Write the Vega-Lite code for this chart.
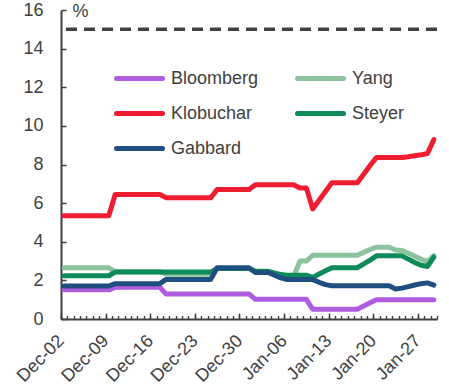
{
  "$schema": "https://vega.github.io/schema/vega-lite/v6.json",
  "width": 376,
  "height": 309,
  "autosize": {"type": "none"},
  "padding": {"left": 61, "top": 10, "right": 12, "bottom": 66},
  "config": {
    "font": "Liberation Sans",
    "view": {"stroke": null},
    "axis": {"grid": false}
  },
  "data": {
    "values": [
      {"date": "2019-12-02", "series": "Bloomberg", "value": 1.51},
      {"date": "2019-12-03", "series": "Bloomberg", "value": 1.51},
      {"date": "2019-12-04", "series": "Bloomberg", "value": 1.51},
      {"date": "2019-12-05", "series": "Bloomberg", "value": 1.51},
      {"date": "2019-12-06", "series": "Bloomberg", "value": 1.51},
      {"date": "2019-12-07", "series": "Bloomberg", "value": 1.51},
      {"date": "2019-12-08", "series": "Bloomberg", "value": 1.51},
      {"date": "2019-12-09", "series": "Bloomberg", "value": 1.51},
      {"date": "2019-12-10", "series": "Bloomberg", "value": 1.64},
      {"date": "2019-12-11", "series": "Bloomberg", "value": 1.64},
      {"date": "2019-12-12", "series": "Bloomberg", "value": 1.64},
      {"date": "2019-12-13", "series": "Bloomberg", "value": 1.64},
      {"date": "2019-12-14", "series": "Bloomberg", "value": 1.64},
      {"date": "2019-12-15", "series": "Bloomberg", "value": 1.64},
      {"date": "2019-12-16", "series": "Bloomberg", "value": 1.64},
      {"date": "2019-12-17", "series": "Bloomberg", "value": 1.64},
      {"date": "2019-12-18", "series": "Bloomberg", "value": 1.3},
      {"date": "2019-12-19", "series": "Bloomberg", "value": 1.3},
      {"date": "2019-12-20", "series": "Bloomberg", "value": 1.3},
      {"date": "2019-12-21", "series": "Bloomberg", "value": 1.3},
      {"date": "2019-12-22", "series": "Bloomberg", "value": 1.3},
      {"date": "2019-12-23", "series": "Bloomberg", "value": 1.3},
      {"date": "2019-12-24", "series": "Bloomberg", "value": 1.3},
      {"date": "2019-12-25", "series": "Bloomberg", "value": 1.3},
      {"date": "2019-12-26", "series": "Bloomberg", "value": 1.3},
      {"date": "2019-12-27", "series": "Bloomberg", "value": 1.3},
      {"date": "2019-12-28", "series": "Bloomberg", "value": 1.3},
      {"date": "2019-12-29", "series": "Bloomberg", "value": 1.3},
      {"date": "2019-12-30", "series": "Bloomberg", "value": 1.3},
      {"date": "2019-12-31", "series": "Bloomberg", "value": 1.3},
      {"date": "2020-01-01", "series": "Bloomberg", "value": 1.02},
      {"date": "2020-01-02", "series": "Bloomberg", "value": 1.02},
      {"date": "2020-01-03", "series": "Bloomberg", "value": 1.02},
      {"date": "2020-01-04", "series": "Bloomberg", "value": 1.02},
      {"date": "2020-01-05", "series": "Bloomberg", "value": 1.02},
      {"date": "2020-01-06", "series": "Bloomberg", "value": 1.02},
      {"date": "2020-01-07", "series": "Bloomberg", "value": 1.02},
      {"date": "2020-01-08", "series": "Bloomberg", "value": 1.02},
      {"date": "2020-01-09", "series": "Bloomberg", "value": 1.02},
      {"date": "2020-01-10", "series": "Bloomberg", "value": 0.5},
      {"date": "2020-01-11", "series": "Bloomberg", "value": 0.5},
      {"date": "2020-01-12", "series": "Bloomberg", "value": 0.5},
      {"date": "2020-01-13", "series": "Bloomberg", "value": 0.5},
      {"date": "2020-01-14", "series": "Bloomberg", "value": 0.5},
      {"date": "2020-01-15", "series": "Bloomberg", "value": 0.5},
      {"date": "2020-01-16", "series": "Bloomberg", "value": 0.5},
      {"date": "2020-01-17", "series": "Bloomberg", "value": 0.5},
      {"date": "2020-01-18", "series": "Bloomberg", "value": 0.67},
      {"date": "2020-01-19", "series": "Bloomberg", "value": 0.84},
      {"date": "2020-01-20", "series": "Bloomberg", "value": 1.0},
      {"date": "2020-01-21", "series": "Bloomberg", "value": 1.0},
      {"date": "2020-01-22", "series": "Bloomberg", "value": 1.0},
      {"date": "2020-01-23", "series": "Bloomberg", "value": 1.0},
      {"date": "2020-01-24", "series": "Bloomberg", "value": 1.0},
      {"date": "2020-01-25", "series": "Bloomberg", "value": 1.0},
      {"date": "2020-01-26", "series": "Bloomberg", "value": 1.0},
      {"date": "2020-01-27", "series": "Bloomberg", "value": 1.0},
      {"date": "2020-01-28", "series": "Bloomberg", "value": 1.0},
      {"date": "2020-01-29", "series": "Bloomberg", "value": 1.0},

      {"date": "2019-12-02", "series": "Yang", "value": 2.65},
      {"date": "2019-12-03", "series": "Yang", "value": 2.65},
      {"date": "2019-12-04", "series": "Yang", "value": 2.65},
      {"date": "2019-12-05", "series": "Yang", "value": 2.65},
      {"date": "2019-12-06", "series": "Yang", "value": 2.65},
      {"date": "2019-12-07", "series": "Yang", "value": 2.65},
      {"date": "2019-12-08", "series": "Yang", "value": 2.65},
      {"date": "2019-12-09", "series": "Yang", "value": 2.65},
      {"date": "2019-12-10", "series": "Yang", "value": 2.45},
      {"date": "2019-12-11", "series": "Yang", "value": 2.45},
      {"date": "2019-12-12", "series": "Yang", "value": 2.45},
      {"date": "2019-12-13", "series": "Yang", "value": 2.45},
      {"date": "2019-12-14", "series": "Yang", "value": 2.45},
      {"date": "2019-12-15", "series": "Yang", "value": 2.45},
      {"date": "2019-12-16", "series": "Yang", "value": 2.45},
      {"date": "2019-12-17", "series": "Yang", "value": 2.45},
      {"date": "2019-12-18", "series": "Yang", "value": 2.32},
      {"date": "2019-12-19", "series": "Yang", "value": 2.32},
      {"date": "2019-12-20", "series": "Yang", "value": 2.32},
      {"date": "2019-12-21", "series": "Yang", "value": 2.32},
      {"date": "2019-12-22", "series": "Yang", "value": 2.32},
      {"date": "2019-12-23", "series": "Yang", "value": 2.32},
      {"date": "2019-12-24", "series": "Yang", "value": 2.32},
      {"date": "2019-12-25", "series": "Yang", "value": 2.32},
      {"date": "2019-12-26", "series": "Yang", "value": 2.62},
      {"date": "2019-12-27", "series": "Yang", "value": 2.62},
      {"date": "2019-12-28", "series": "Yang", "value": 2.62},
      {"date": "2019-12-29", "series": "Yang", "value": 2.62},
      {"date": "2019-12-30", "series": "Yang", "value": 2.62},
      {"date": "2019-12-31", "series": "Yang", "value": 2.62},
      {"date": "2020-01-01", "series": "Yang", "value": 2.45},
      {"date": "2020-01-02", "series": "Yang", "value": 2.45},
      {"date": "2020-01-03", "series": "Yang", "value": 2.45},
      {"date": "2020-01-04", "series": "Yang", "value": 2.35},
      {"date": "2020-01-05", "series": "Yang", "value": 2.27},
      {"date": "2020-01-06", "series": "Yang", "value": 2.22},
      {"date": "2020-01-07", "series": "Yang", "value": 2.2},
      {"date": "2020-01-08", "series": "Yang", "value": 3.0},
      {"date": "2020-01-09", "series": "Yang", "value": 3.0},
      {"date": "2020-01-10", "series": "Yang", "value": 3.3},
      {"date": "2020-01-11", "series": "Yang", "value": 3.3},
      {"date": "2020-01-12", "series": "Yang", "value": 3.3},
      {"date": "2020-01-13", "series": "Yang", "value": 3.3},
      {"date": "2020-01-14", "series": "Yang", "value": 3.3},
      {"date": "2020-01-15", "series": "Yang", "value": 3.3},
      {"date": "2020-01-16", "series": "Yang", "value": 3.3},
      {"date": "2020-01-17", "series": "Yang", "value": 3.3},
      {"date": "2020-01-18", "series": "Yang", "value": 3.45},
      {"date": "2020-01-19", "series": "Yang", "value": 3.6},
      {"date": "2020-01-20", "series": "Yang", "value": 3.72},
      {"date": "2020-01-21", "series": "Yang", "value": 3.72},
      {"date": "2020-01-22", "series": "Yang", "value": 3.72},
      {"date": "2020-01-23", "series": "Yang", "value": 3.57},
      {"date": "2020-01-24", "series": "Yang", "value": 3.55},
      {"date": "2020-01-25", "series": "Yang", "value": 3.4},
      {"date": "2020-01-26", "series": "Yang", "value": 3.25},
      {"date": "2020-01-27", "series": "Yang", "value": 3.1},
      {"date": "2020-01-28", "series": "Yang", "value": 2.97},
      {"date": "2020-01-29", "series": "Yang", "value": 3.28},

      {"date": "2019-12-02", "series": "Klobuchar", "value": 5.35},
      {"date": "2019-12-03", "series": "Klobuchar", "value": 5.35},
      {"date": "2019-12-04", "series": "Klobuchar", "value": 5.35},
      {"date": "2019-12-05", "series": "Klobuchar", "value": 5.35},
      {"date": "2019-12-06", "series": "Klobuchar", "value": 5.35},
      {"date": "2019-12-07", "series": "Klobuchar", "value": 5.35},
      {"date": "2019-12-08", "series": "Klobuchar", "value": 5.35},
      {"date": "2019-12-09", "series": "Klobuchar", "value": 5.35},
      {"date": "2019-12-10", "series": "Klobuchar", "value": 6.45},
      {"date": "2019-12-11", "series": "Klobuchar", "value": 6.45},
      {"date": "2019-12-12", "series": "Klobuchar", "value": 6.45},
      {"date": "2019-12-13", "series": "Klobuchar", "value": 6.45},
      {"date": "2019-12-14", "series": "Klobuchar", "value": 6.45},
      {"date": "2019-12-15", "series": "Klobuchar", "value": 6.45},
      {"date": "2019-12-16", "series": "Klobuchar", "value": 6.45},
      {"date": "2019-12-17", "series": "Klobuchar", "value": 6.45},
      {"date": "2019-12-18", "series": "Klobuchar", "value": 6.28},
      {"date": "2019-12-19", "series": "Klobuchar", "value": 6.28},
      {"date": "2019-12-20", "series": "Klobuchar", "value": 6.28},
      {"date": "2019-12-21", "series": "Klobuchar", "value": 6.28},
      {"date": "2019-12-22", "series": "Klobuchar", "value": 6.28},
      {"date": "2019-12-23", "series": "Klobuchar", "value": 6.28},
      {"date": "2019-12-24", "series": "Klobuchar", "value": 6.28},
      {"date": "2019-12-25", "series": "Klobuchar", "value": 6.28},
      {"date": "2019-12-26", "series": "Klobuchar", "value": 6.7},
      {"date": "2019-12-27", "series": "Klobuchar", "value": 6.7},
      {"date": "2019-12-28", "series": "Klobuchar", "value": 6.7},
      {"date": "2019-12-29", "series": "Klobuchar", "value": 6.7},
      {"date": "2019-12-30", "series": "Klobuchar", "value": 6.7},
      {"date": "2019-12-31", "series": "Klobuchar", "value": 6.7},
      {"date": "2020-01-01", "series": "Klobuchar", "value": 6.95},
      {"date": "2020-01-02", "series": "Klobuchar", "value": 6.95},
      {"date": "2020-01-03", "series": "Klobuchar", "value": 6.95},
      {"date": "2020-01-04", "series": "Klobuchar", "value": 6.95},
      {"date": "2020-01-05", "series": "Klobuchar", "value": 6.95},
      {"date": "2020-01-06", "series": "Klobuchar", "value": 6.95},
      {"date": "2020-01-07", "series": "Klobuchar", "value": 6.95},
      {"date": "2020-01-08", "series": "Klobuchar", "value": 6.78},
      {"date": "2020-01-09", "series": "Klobuchar", "value": 6.78},
      {"date": "2020-01-10", "series": "Klobuchar", "value": 5.7},
      {"date": "2020-01-11", "series": "Klobuchar", "value": 6.15},
      {"date": "2020-01-12", "series": "Klobuchar", "value": 6.6},
      {"date": "2020-01-13", "series": "Klobuchar", "value": 7.05},
      {"date": "2020-01-14", "series": "Klobuchar", "value": 7.05},
      {"date": "2020-01-15", "series": "Klobuchar", "value": 7.05},
      {"date": "2020-01-16", "series": "Klobuchar", "value": 7.05},
      {"date": "2020-01-17", "series": "Klobuchar", "value": 7.05},
      {"date": "2020-01-18", "series": "Klobuchar", "value": 7.5},
      {"date": "2020-01-19", "series": "Klobuchar", "value": 7.95},
      {"date": "2020-01-20", "series": "Klobuchar", "value": 8.36},
      {"date": "2020-01-21", "series": "Klobuchar", "value": 8.36},
      {"date": "2020-01-22", "series": "Klobuchar", "value": 8.36},
      {"date": "2020-01-23", "series": "Klobuchar", "value": 8.36},
      {"date": "2020-01-24", "series": "Klobuchar", "value": 8.36},
      {"date": "2020-01-25", "series": "Klobuchar", "value": 8.4},
      {"date": "2020-01-26", "series": "Klobuchar", "value": 8.45},
      {"date": "2020-01-27", "series": "Klobuchar", "value": 8.5},
      {"date": "2020-01-28", "series": "Klobuchar", "value": 8.57},
      {"date": "2020-01-29", "series": "Klobuchar", "value": 9.29},

      {"date": "2019-12-02", "series": "Steyer", "value": 2.24},
      {"date": "2019-12-03", "series": "Steyer", "value": 2.24},
      {"date": "2019-12-04", "series": "Steyer", "value": 2.24},
      {"date": "2019-12-05", "series": "Steyer", "value": 2.24},
      {"date": "2019-12-06", "series": "Steyer", "value": 2.24},
      {"date": "2019-12-07", "series": "Steyer", "value": 2.24},
      {"date": "2019-12-08", "series": "Steyer", "value": 2.24},
      {"date": "2019-12-09", "series": "Steyer", "value": 2.24},
      {"date": "2019-12-10", "series": "Steyer", "value": 2.43},
      {"date": "2019-12-11", "series": "Steyer", "value": 2.43},
      {"date": "2019-12-12", "series": "Steyer", "value": 2.43},
      {"date": "2019-12-13", "series": "Steyer", "value": 2.43},
      {"date": "2019-12-14", "series": "Steyer", "value": 2.43},
      {"date": "2019-12-15", "series": "Steyer", "value": 2.43},
      {"date": "2019-12-16", "series": "Steyer", "value": 2.43},
      {"date": "2019-12-17", "series": "Steyer", "value": 2.43},
      {"date": "2019-12-18", "series": "Steyer", "value": 2.43},
      {"date": "2019-12-19", "series": "Steyer", "value": 2.43},
      {"date": "2019-12-20", "series": "Steyer", "value": 2.43},
      {"date": "2019-12-21", "series": "Steyer", "value": 2.43},
      {"date": "2019-12-22", "series": "Steyer", "value": 2.43},
      {"date": "2019-12-23", "series": "Steyer", "value": 2.43},
      {"date": "2019-12-24", "series": "Steyer", "value": 2.43},
      {"date": "2019-12-25", "series": "Steyer", "value": 2.43},
      {"date": "2019-12-26", "series": "Steyer", "value": 2.62},
      {"date": "2019-12-27", "series": "Steyer", "value": 2.62},
      {"date": "2019-12-28", "series": "Steyer", "value": 2.62},
      {"date": "2019-12-29", "series": "Steyer", "value": 2.62},
      {"date": "2019-12-30", "series": "Steyer", "value": 2.62},
      {"date": "2019-12-31", "series": "Steyer", "value": 2.62},
      {"date": "2020-01-01", "series": "Steyer", "value": 2.47},
      {"date": "2020-01-02", "series": "Steyer", "value": 2.47},
      {"date": "2020-01-03", "series": "Steyer", "value": 2.47},
      {"date": "2020-01-04", "series": "Steyer", "value": 2.38},
      {"date": "2020-01-05", "series": "Steyer", "value": 2.3},
      {"date": "2020-01-06", "series": "Steyer", "value": 2.27},
      {"date": "2020-01-07", "series": "Steyer", "value": 2.27},
      {"date": "2020-01-08", "series": "Steyer", "value": 2.27},
      {"date": "2020-01-09", "series": "Steyer", "value": 2.27},
      {"date": "2020-01-10", "series": "Steyer", "value": 2.15},
      {"date": "2020-01-11", "series": "Steyer", "value": 2.33},
      {"date": "2020-01-12", "series": "Steyer", "value": 2.5},
      {"date": "2020-01-13", "series": "Steyer", "value": 2.66},
      {"date": "2020-01-14", "series": "Steyer", "value": 2.66},
      {"date": "2020-01-15", "series": "Steyer", "value": 2.66},
      {"date": "2020-01-16", "series": "Steyer", "value": 2.66},
      {"date": "2020-01-17", "series": "Steyer", "value": 2.66},
      {"date": "2020-01-18", "series": "Steyer", "value": 2.85},
      {"date": "2020-01-19", "series": "Steyer", "value": 3.05},
      {"date": "2020-01-20", "series": "Steyer", "value": 3.27},
      {"date": "2020-01-21", "series": "Steyer", "value": 3.27},
      {"date": "2020-01-22", "series": "Steyer", "value": 3.27},
      {"date": "2020-01-23", "series": "Steyer", "value": 3.27},
      {"date": "2020-01-24", "series": "Steyer", "value": 3.27},
      {"date": "2020-01-25", "series": "Steyer", "value": 3.1},
      {"date": "2020-01-26", "series": "Steyer", "value": 2.93},
      {"date": "2020-01-27", "series": "Steyer", "value": 2.78},
      {"date": "2020-01-28", "series": "Steyer", "value": 2.72},
      {"date": "2020-01-29", "series": "Steyer", "value": 3.2},

      {"date": "2019-12-02", "series": "Gabbard", "value": 1.71},
      {"date": "2019-12-03", "series": "Gabbard", "value": 1.71},
      {"date": "2019-12-04", "series": "Gabbard", "value": 1.71},
      {"date": "2019-12-05", "series": "Gabbard", "value": 1.71},
      {"date": "2019-12-06", "series": "Gabbard", "value": 1.71},
      {"date": "2019-12-07", "series": "Gabbard", "value": 1.71},
      {"date": "2019-12-08", "series": "Gabbard", "value": 1.71},
      {"date": "2019-12-09", "series": "Gabbard", "value": 1.71},
      {"date": "2019-12-10", "series": "Gabbard", "value": 1.83},
      {"date": "2019-12-11", "series": "Gabbard", "value": 1.83},
      {"date": "2019-12-12", "series": "Gabbard", "value": 1.83},
      {"date": "2019-12-13", "series": "Gabbard", "value": 1.83},
      {"date": "2019-12-14", "series": "Gabbard", "value": 1.83},
      {"date": "2019-12-15", "series": "Gabbard", "value": 1.83},
      {"date": "2019-12-16", "series": "Gabbard", "value": 1.83},
      {"date": "2019-12-17", "series": "Gabbard", "value": 1.83},
      {"date": "2019-12-18", "series": "Gabbard", "value": 2.05},
      {"date": "2019-12-19", "series": "Gabbard", "value": 2.05},
      {"date": "2019-12-20", "series": "Gabbard", "value": 2.05},
      {"date": "2019-12-21", "series": "Gabbard", "value": 2.05},
      {"date": "2019-12-22", "series": "Gabbard", "value": 2.05},
      {"date": "2019-12-23", "series": "Gabbard", "value": 2.05},
      {"date": "2019-12-24", "series": "Gabbard", "value": 2.05},
      {"date": "2019-12-25", "series": "Gabbard", "value": 2.05},
      {"date": "2019-12-26", "series": "Gabbard", "value": 2.65},
      {"date": "2019-12-27", "series": "Gabbard", "value": 2.65},
      {"date": "2019-12-28", "series": "Gabbard", "value": 2.65},
      {"date": "2019-12-29", "series": "Gabbard", "value": 2.65},
      {"date": "2019-12-30", "series": "Gabbard", "value": 2.65},
      {"date": "2019-12-31", "series": "Gabbard", "value": 2.65},
      {"date": "2020-01-01", "series": "Gabbard", "value": 2.41},
      {"date": "2020-01-02", "series": "Gabbard", "value": 2.41},
      {"date": "2020-01-03", "series": "Gabbard", "value": 2.41},
      {"date": "2020-01-04", "series": "Gabbard", "value": 2.27},
      {"date": "2020-01-05", "series": "Gabbard", "value": 2.13},
      {"date": "2020-01-06", "series": "Gabbard", "value": 2.04},
      {"date": "2020-01-07", "series": "Gabbard", "value": 2.04},
      {"date": "2020-01-08", "series": "Gabbard", "value": 2.04},
      {"date": "2020-01-09", "series": "Gabbard", "value": 2.04},
      {"date": "2020-01-10", "series": "Gabbard", "value": 2.04},
      {"date": "2020-01-11", "series": "Gabbard", "value": 1.9},
      {"date": "2020-01-12", "series": "Gabbard", "value": 1.78},
      {"date": "2020-01-13", "series": "Gabbard", "value": 1.72},
      {"date": "2020-01-14", "series": "Gabbard", "value": 1.72},
      {"date": "2020-01-15", "series": "Gabbard", "value": 1.72},
      {"date": "2020-01-16", "series": "Gabbard", "value": 1.72},
      {"date": "2020-01-17", "series": "Gabbard", "value": 1.72},
      {"date": "2020-01-18", "series": "Gabbard", "value": 1.72},
      {"date": "2020-01-19", "series": "Gabbard", "value": 1.72},
      {"date": "2020-01-20", "series": "Gabbard", "value": 1.72},
      {"date": "2020-01-21", "series": "Gabbard", "value": 1.72},
      {"date": "2020-01-22", "series": "Gabbard", "value": 1.72},
      {"date": "2020-01-23", "series": "Gabbard", "value": 1.55},
      {"date": "2020-01-24", "series": "Gabbard", "value": 1.6},
      {"date": "2020-01-25", "series": "Gabbard", "value": 1.68},
      {"date": "2020-01-26", "series": "Gabbard", "value": 1.76},
      {"date": "2020-01-27", "series": "Gabbard", "value": 1.83},
      {"date": "2020-01-28", "series": "Gabbard", "value": 1.87},
      {"date": "2020-01-29", "series": "Gabbard", "value": 1.75}
    ]
  },
  "encoding": {
    "y": {
      "field": "value",
      "type": "quantitative",
      "scale": {"domain": [0, 16], "nice": false, "zero": true},
      "axis": {
        "values": [0, 2, 4, 6, 8, 10, 12, 14, 16],
        "tickSize": -5,
        "tickWidth": 1.5,
        "tickColor": "#404040",
        "domainColor": "#404040",
        "domainWidth": 2,
        "labelFontSize": 18,
        "labelColor": "#404040",
        "labelPadding": 23,
        "title": "%",
        "titleAngle": 0,
        "titleAlign": "left",
        "titleBaseline": "middle",
        "titleX": 11,
        "titleY": 1,
        "titleFontSize": 18,
        "titleFontWeight": "normal",
        "titleColor": "#404040",
        "grid": false
      }
    },
    "color": {
      "field": "series",
      "type": "nominal",
      "scale": {
        "domain": ["Bloomberg", "Klobuchar", "Gabbard", "Yang", "Steyer"],
        "range": ["#B05CE0", "#EE1D31", "#1F4E80", "#8CC39E", "#0F8A5B"]
      },
      "legend": {
        "title": null,
        "orient": "none",
        "legendX": 53,
        "legendY": 57.5,
        "columns": 2,
        "symbolType": "stroke",
        "symbolSize": 2116,
        "symbolStrokeWidth": 5,
        "labelFontSize": 18,
        "labelColor": "#404040",
        "labelOffset": 6,
        "clipHeight": 22,
        "rowPadding": 13,
        "columnPadding": 36,
        "padding": 0,
        "encode": {"symbols": {"update": {"strokeCap": {"value": "round"}}}}
      }
    }
  },
  "layer": [
    {
      "transform": [{"filter": "datum.series === 'Bloomberg'"}],
      "mark": {"type": "line", "strokeWidth": 5, "strokeCap": "round", "strokeJoin": "round"},
      "encoding": {
        "x": {
          "field": "date",
          "type": "temporal",
          "timeUnit": "utcyearmonthdate",
          "bandPosition": 0.5,
          "scale": {"domain": [
            {"year": 2019, "month": 12, "date": 2, "utc": true},
            {"year": 2020, "month": 1, "date": 30, "utc": true}
          ]},
          "axis": {
            "orient": "bottom",
            "values": [
              {"year": 2019, "month": 12, "date": 2, "utc": true},
              {"year": 2019, "month": 12, "date": 9, "utc": true},
              {"year": 2019, "month": 12, "date": 16, "utc": true},
              {"year": 2019, "month": 12, "date": 23, "utc": true},
              {"year": 2019, "month": 12, "date": 30, "utc": true},
              {"year": 2020, "month": 1, "date": 6, "utc": true},
              {"year": 2020, "month": 1, "date": 13, "utc": true},
              {"year": 2020, "month": 1, "date": 20, "utc": true},
              {"year": 2020, "month": 1, "date": 27, "utc": true}
            ],
            "labelExpr": "utcFormat(datum.value, '%b-%d')",
            "labelAngle": -45,
            "labelAlign": "right",
            "labelBaseline": "middle",
            "labelFontSize": 18,
            "labelColor": "#404040",
            "labelPadding": 25,
            "labelOverlap": false,
            "labelFlush": false,
            "tickSize": -6,
            "tickWidth": 1.5,
            "tickColor": "#404040",
            "domainColor": "#404040",
            "domainWidth": 2,
            "title": null,
            "grid": false
          }
        }
      }
    },
    {
      "transform": [{"filter": "datum.series === 'Yang'"}],
      "mark": {"type": "line", "strokeWidth": 5, "strokeCap": "round", "strokeJoin": "round"},
      "encoding": {
        "x": {
          "field": "date",
          "type": "temporal",
          "timeUnit": "utcyearmonthdate",
          "bandPosition": 0.5,
          "axis": {
            "orient": "bottom",
            "tickCount": {"interval": "day", "step": 1},
            "labels": false,
            "domain": false,
            "tickSize": -3.5,
            "tickWidth": 1.4,
            "tickColor": "#404040",
            "title": null,
            "grid": false
          }
        }
      }
    },
    {
      "transform": [{"filter": "datum.series === 'Klobuchar'"}],
      "mark": {"type": "line", "strokeWidth": 5, "strokeCap": "round", "strokeJoin": "round"},
      "encoding": {
        "x": {"field": "date", "type": "temporal", "timeUnit": "utcyearmonthdate", "bandPosition": 0.5, "axis": null}
      }
    },
    {
      "transform": [{"filter": "datum.series === 'Steyer'"}],
      "mark": {"type": "line", "strokeWidth": 5, "strokeCap": "round", "strokeJoin": "round"},
      "encoding": {
        "x": {"field": "date", "type": "temporal", "timeUnit": "utcyearmonthdate", "bandPosition": 0.5, "axis": null}
      }
    },
    {
      "transform": [{"filter": "datum.series === 'Gabbard'"}],
      "mark": {"type": "line", "strokeWidth": 5, "strokeCap": "round", "strokeJoin": "round"},
      "encoding": {
        "x": {"field": "date", "type": "temporal", "timeUnit": "utcyearmonthdate", "bandPosition": 0.5, "axis": null}
      }
    },
    {
      "data": {"values": [{"threshold": 15}]},
      "mark": {"type": "rule", "strokeDash": [11, 7], "strokeWidth": 3.5, "color": "#404040"},
      "encoding": {
        "y": {"field": "threshold", "type": "quantitative"},
        "color": {"value": "#404040"}
      }
    }
  ],
  "resolve": {"axis": {"x": "independent"}}
}
